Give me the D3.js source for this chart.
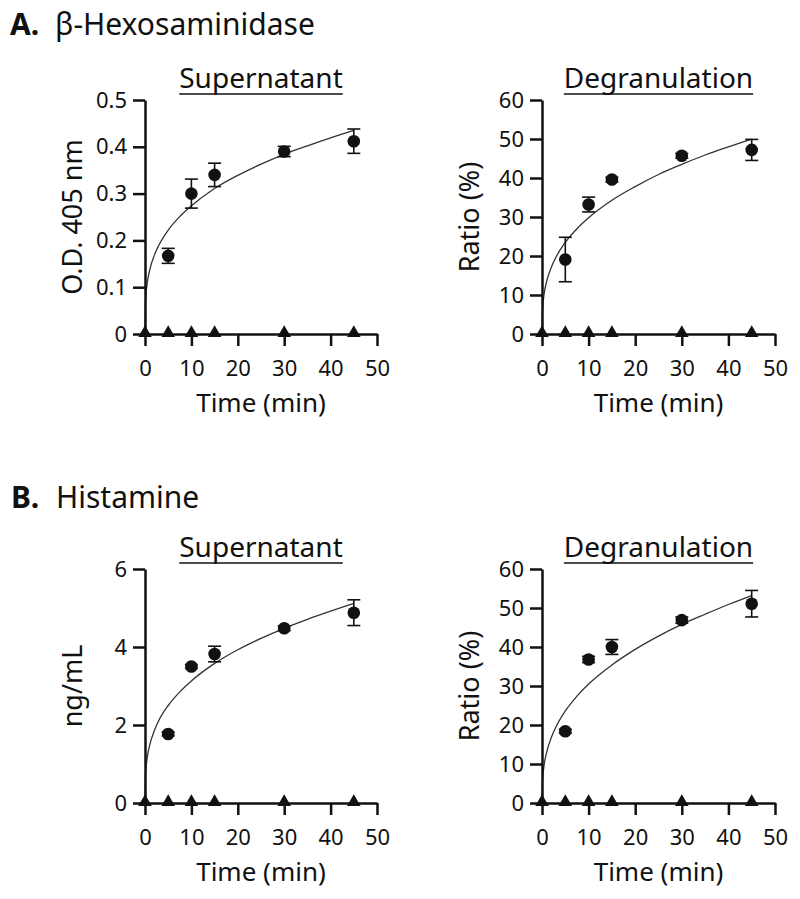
<!DOCTYPE html>
<html>
<head>
    <meta charset="utf-8">
    <title>Hexosaminidase and Histamine release</title>
    <script type="text/javascript" src="https://cdn.jsdelivr.net/npm/d3@7"></script>
    <style>
        body { margin: 0; background: #fff; }
        svg text { font-family: "Noto Sans", "Open Sans", sans-serif; fill: #111; }
        .axis path, .axis line { stroke: #111; stroke-width: 2.5; }
        .axis text { font-size: 22px; fill: #111; }
        .fit { fill: none; stroke: #333; stroke-width: 1.3; }
        .err { stroke: #111; stroke-width: 1.6; }
    </style>
</head>
<body>
<script type="text/javascript">

    // sampling times
    var times = [5, 10, 15, 30, 45];
    var ctrlTimes = [0, 5, 10, 15, 30, 45];
    var ctrlValues = [0, 0, 0, 0, 0, 0];

    // fitted curves
    var fitTimes = [0, 0.1, 0.5, 1, 2, 3, 5, 7.5, 10, 15, 20, 25, 30, 35, 40, 45];

    // A. beta-hexosaminidase
    var hexSupMean = [0.167, 0.300, 0.340, 0.390, 0.412];
    var hexSupErr  = [0.016, 0.031, 0.025, 0.011, 0.026];
    var hexSupFit  = [0, 0.067, 0.11, 0.136, 0.168, 0.19, 0.222, 0.251, 0.274, 0.311, 0.339, 0.363, 0.384, 0.402, 0.419, 0.435];

    var hexDegMean = [19.1, 33.2, 39.6, 45.7, 47.2];
    var hexDegErr  = [5.7, 1.9, 0.6, 0.6, 2.7];
    var hexDegFit  = [0, 6.1, 10.6, 13.5, 17.1, 19.7, 23.5, 27.0, 29.8, 34.3, 37.8, 40.9, 43.5, 45.9, 48.0, 50.0];

    // B. histamine
    var hisSupMean = [1.77, 3.50, 3.82, 4.48, 4.88];
    var hisSupErr  = [0.05, 0.05, 0.20, 0.06, 0.33];
    var hisSupFit  = [0, 0.70, 1.18, 1.48, 1.85, 2.12, 2.50, 2.85, 3.13, 3.58, 3.93, 4.22, 4.48, 4.71, 4.92, 5.12];

    var hisDegMean = [18.4, 36.8, 40.0, 46.9, 51.1];
    var hisDegErr  = [0.5, 0.8, 1.9, 0.8, 3.4];
    var hisDegFit  = [0, 5.5, 10.1, 13.0, 16.8, 19.5, 23.6, 27.4, 30.5, 35.4, 39.4, 42.8, 45.8, 48.4, 50.9, 53.2];

    // ticks
    var xTicks = [0, 10, 20, 30, 40, 50];
    var odTicks = [0, 0.1, 0.2, 0.3, 0.4, 0.5];
    var odLabels = ["0", "0.1", "0.2", "0.3", "0.4", "0.5"];
    var ratioTicks = [0, 10, 20, 30, 40, 50, 60];
    var ratioLabels = ["0", "10", "20", "30", "40", "50", "60"];
    var ngTicks = [0, 2, 4, 6];
    var ngLabels = ["0", "2", "4", "6"];

    var width = 800, height = 899;

    var svg = d3.select('body').append('svg')
        .attr('width', width)
        .attr('height', height);

    // section headings
    function heading(x, y, letter, name) {
        var t = svg.append('text')
            .attr('x', x).attr('y', y)
            .style('font-size', '30px');
        t.append('tspan').style('font-weight', 'bold').text(letter);
        t.append('tspan').attr('x', x + 45).text(name);
    }
    heading(10, 35, 'A.', 'β-Hexosaminidase');
    heading(11, 508, 'B.', 'Histamine');

    var cols = { left: [145, 377], right: [542, 775] };
    var rows = { A: [334, 100], B: [803, 569] };

    function panel(o) {
        var x = d3.scaleLinear().domain([0, 50]).range(cols[o.col]);
        var y = d3.scaleLinear().domain([0, o.yMax]).range(rows[o.row]);
        var g = svg.append('g');

        // title, underlined
        var cx = (x.range()[0] + x.range()[1]) / 2;
        var title = g.append('text')
            .attr('x', cx)
            .attr('y', y.range()[1] - 12)
            .attr('text-anchor', 'middle')
            .style('font-size', '28px')
            .text(o.title);
        var tw = title.node().getComputedTextLength();
        g.append('line')
            .attr('x1', cx - tw / 2).attr('x2', cx + tw / 2)
            .attr('y1', y.range()[1] - 6).attr('y2', y.range()[1] - 6)
            .attr('stroke', '#111').attr('stroke-width', 1.6);

        // y axis label
        g.append('text')
            .attr('transform', 'translate(' + (x.range()[0] - 63) + ',' + ((y.range()[0] + y.range()[1]) / 2) + ') rotate(-90)')
            .attr('text-anchor', 'middle')
            .style('font-size', '27px')
            .text(o.yLabel);

        // x axis label
        g.append('text')
            .attr('x', cx)
            .attr('y', y.range()[0] + 78)
            .attr('text-anchor', 'middle')
            .style('font-size', '26px')
            .text('Time (min)');

        // fit curve
        var line = d3.line()
            .curve(d3.curveMonotoneX)
            .x(function(d){ return x(d[0]); })
            .y(function(d){ return y(d[1]); });
        g.append('path')
            .attr('class', 'fit')
            .attr('d', line(d3.zip(fitTimes, o.fit)));

        // axes
        var axisY = d3.axisLeft(y).tickValues(o.yTicks)
            .tickFormat(function(d, i){ return o.yLabels[i]; })
            .tickSize(12).tickSizeOuter(0).tickPadding(6);
        g.append('g').classed('axis', true)
            .attr('transform', 'translate(' + x.range()[0] + ',0)')
            .call(axisY);

        var axisX = d3.axisBottom(x).tickValues(xTicks)
            .tickSize(12).tickSizeOuter(0).tickPadding(14);
        g.append('g').classed('axis', true)
            .attr('transform', 'translate(0,' + y.range()[0] + ')')
            .call(axisX);

        g.selectAll('.axis text').style('font-family', '"Noto Sans", sans-serif');

        // error bars
        var pts = d3.zip(times, o.mean, o.err);
        var eb = g.selectAll('g.eb').data(pts).enter().append('g').attr('class', 'eb');
        eb.append('line').attr('class', 'err')
            .attr('x1', function(d){ return x(d[0]); }).attr('x2', function(d){ return x(d[0]); })
            .attr('y1', function(d){ return y(d[1] - d[2]); }).attr('y2', function(d){ return y(d[1] + d[2]); });
        [1, -1].forEach(function(s){
            eb.append('line').attr('class', 'err')
                .attr('x1', function(d){ return x(d[0]) - 6.5; }).attr('x2', function(d){ return x(d[0]) + 6.5; })
                .attr('y1', function(d){ return y(d[1] + s * d[2]); }).attr('y2', function(d){ return y(d[1] + s * d[2]); });
        });

        // stimulated: filled circles
        g.selectAll('circle').data(pts).enter().append('circle')
            .attr('cx', function(d){ return x(d[0]); })
            .attr('cy', function(d){ return y(d[1]); })
            .attr('r', 6.3)
            .attr('fill', '#111');

        // control: triangles on the baseline
        var tri = d3.symbol().type(d3.symbolTriangle).size(80);
        g.selectAll('path.ctrl').data(d3.zip(ctrlTimes, ctrlValues)).enter().append('path')
            .attr('class', 'ctrl')
            .attr('d', tri)
            .attr('transform', function(d){ return 'translate(' + x(d[0]) + ',' + (y(d[1]) - 1) + ')'; })
            .attr('fill', '#111');
    }

    panel({ row: 'A', col: 'left', title: 'Supernatant', yLabel: 'O.D. 405 nm', yMax: 0.5,
            yTicks: odTicks, yLabels: odLabels, mean: hexSupMean, err: hexSupErr, fit: hexSupFit });
    panel({ row: 'A', col: 'right', title: 'Degranulation', yLabel: 'Ratio (%)', yMax: 60,
            yTicks: ratioTicks, yLabels: ratioLabels, mean: hexDegMean, err: hexDegErr, fit: hexDegFit });
    panel({ row: 'B', col: 'left', title: 'Supernatant', yLabel: 'ng/mL', yMax: 6,
            yTicks: ngTicks, yLabels: ngLabels, mean: hisSupMean, err: hisSupErr, fit: hisSupFit });
    panel({ row: 'B', col: 'right', title: 'Degranulation', yLabel: 'Ratio (%)', yMax: 60,
            yTicks: ratioTicks, yLabels: ratioLabels, mean: hisDegMean, err: hisDegErr, fit: hisDegFit });

</script>
</body>
</html>
